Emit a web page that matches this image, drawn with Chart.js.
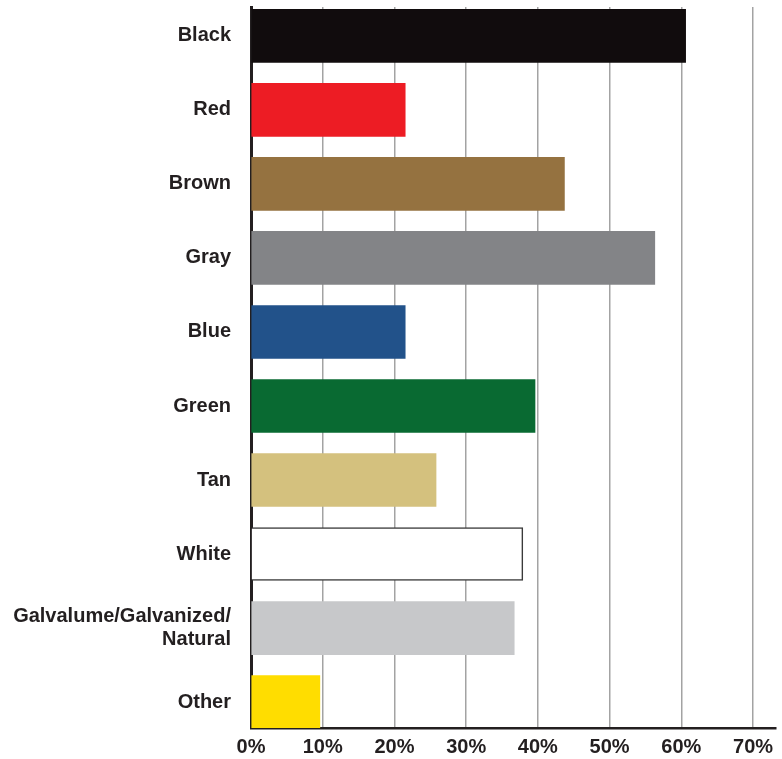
<!DOCTYPE html>
<html lang="en">
<head>
  <meta charset="UTF-8">
  <title>Roof Colors</title>
  <script src="https://cdn.jsdelivr.net/npm/chart.js"></script>
  <style>
    html, body {
      margin: 0;
      padding: 0;
      background: #fff;
    }

    .chart-box {
      width: 782px;
      height: 759px;
    }
  </style>
</head>
<body>

<div class="chart-box">
  <canvas id="colorChart"></canvas>
</div>

<script>
  // Data
  const categories = ['Black', 'Red', 'Brown', 'Gray', 'Blue', 'Green', 'Tan', 'White',
    ['Galvalume/Galvanized/', 'Natural'], 'Other'];
  const shares = [60.6, 21.5, 43.7, 56.3, 21.5, 39.6, 25.8, 37.9, 36.7, 9.6];
  const xTickValues = [0, 10, 20, 30, 40, 50, 60, 70];

  const barColors = ['#110c0d', '#ed1c24', '#957240', '#838487', '#22528a',
    '#096a32', '#d4c17e', '#ffffff', '#c7c8ca', '#ffdd00'];

  const ink = '#231f20';
  const labelFont = { family: '"Liberation Sans", Arial, sans-serif', size: 20, weight: 'bold', lineHeight: 1.15 };

  document.addEventListener('DOMContentLoaded', function() {
    const ctx = document.getElementById('colorChart').getContext('2d');

    new Chart(ctx, {
      type: 'bar',
      data: {
        datasets: [{
          data: shares.map((v, i) => ({ x: v, y: i })),
          backgroundColor: barColors,
          borderColor: categories.map((c, i) => i === 7 ? '#3a3a3a' : 'rgba(0,0,0,0)'),
          borderWidth: categories.map((c, i) => i === 7 ? 1.5 : 0),
          borderSkipped: 'start',
          barThickness: 53
        }]
      },
      options: {
        indexAxis: 'y',
        responsive: true,
        maintainAspectRatio: false,
        animation: false,
        layout: {
          padding: { top: 7, right: 6, bottom: 0, left: 0 }
        },
        plugins: {
          legend: { display: false },
          tooltip: { enabled: false }
        },
        scales: {
          x: {
            type: 'linear',
            position: 'bottom',
            bounds: 'data',
            min: 0,
            max: 73.2,
            afterFit: (scale) => {
              scale.height = 31;
              scale.paddingLeft = 0;
              scale.paddingRight = 0;
            },
            afterBuildTicks: (scale) => {
              scale.ticks = xTickValues.map(v => ({ value: v }));
            },
            ticks: {
              callback: (v) => v + '%',
              color: ink,
              font: labelFont,
              padding: 8,
              maxRotation: 0
            },
            grid: {
              color: '#a3a3a3',
              lineWidth: 1.5,
              drawTicks: false
            },
            border: {
              color: ink,
              width: 2.5
            }
          },
          y: {
            type: 'linear',
            reverse: true,
            offset: false,
            bounds: 'data',
            z: 1,
            min: -0.39,
            max: 9.35,
            afterFit: (scale) => {
              scale.width = 251;
              scale.paddingTop = 0;
              scale.paddingBottom = 0;
            },
            afterBuildTicks: (scale) => {
              scale.ticks = categories.map((c, i) => ({ value: i }));
            },
            ticks: {
              callback: (v) => categories[v],
              color: ink,
              font: labelFont,
              padding: 20
            },
            grid: {
              display: false,
              offset: false,
              drawTicks: false
            },
            border: {
              color: ink,
              width: 3
            }
          }
        }
      }
    });
  });
</script>

</body>
</html>
